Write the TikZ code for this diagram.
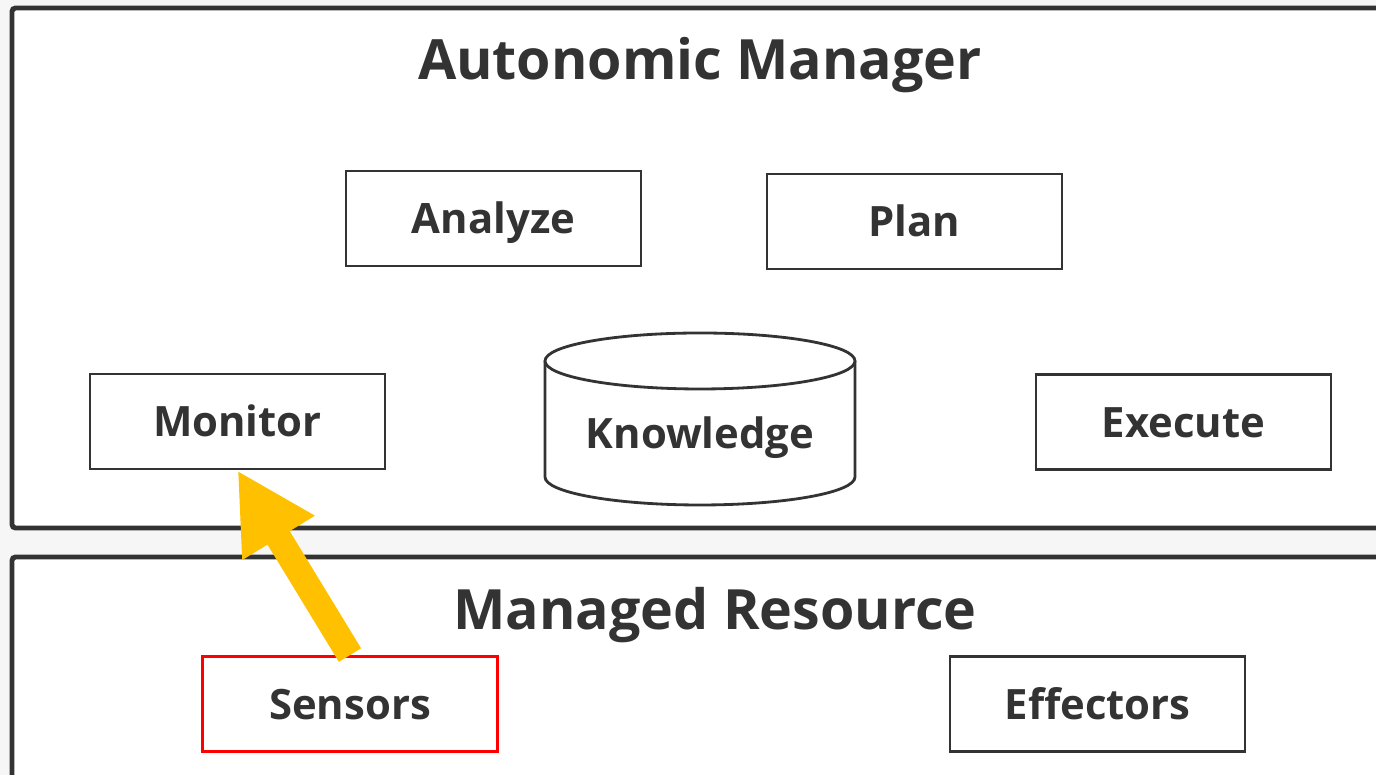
\documentclass[tikz,border=0pt]{standalone}
\usepackage{fontspec}
\setmainfont{Open Sans}
\usetikzlibrary{arrows.meta}
\definecolor{FrameGray}{RGB}{51, 51, 51}
\definecolor{PageGray}{RGB}{246, 246, 246}
\definecolor{ArrowYellow}{RGB}{255, 192, 0}
\definecolor{SensorRed}{RGB}{255, 0, 0}
\tikzset{
    frame/.style={rectangle, draw=FrameGray, fill=white, line width=1.4pt, rounded corners=1pt},
    title/.style={font=\bfseries\fontsize{15.8}{19}\selectfont, text=FrameGray},
    label/.style={font=\bfseries\fontsize{11.9}{14}\selectfont, text=FrameGray, text height=0.86em, text depth=0pt},
    stage/.style={label, rectangle, draw=FrameGray, fill=white, line width=0.8pt, minimum width=2.95cm, minimum height=0.95cm},
    storeline/.style={draw=FrameGray, fill=white, line width=0.8pt},
    flow/.style={-{Triangle[length=0.79cm, width=0.79cm]}, line width=0.26cm, color=ArrowYellow}
}
\begin{document}
\begin{tikzpicture}
            \useasboundingbox (0, 0) rectangle (13.76, -7.75);
            \clip (0, 0) rectangle (13.76, -7.75);
            \fill[PageGray] (0, 0) rectangle (13.76, -7.75);

            \node[frame, minimum width=13.88cm, minimum height=5.2cm] (am) at (7.06, -2.68) {};
            \node[frame, minimum width=13.88cm, minimum height=2.43cm] (mr) at (7.06, -6.785) {};

            \node[title] (amtitle) at (7.0, -0.65) {Autonomic Manager};
            \node[title] (mrtitle) at (7.15, -6.15) {Managed Resource};

            \node[stage] (analyze) at (4.935, -2.185) {Analyze};
            \node[stage] (plan) at (9.145, -2.215) {Plan};
            \node[stage] (monitor) at (2.375, -4.215) {Monitor};
            \node[stage] (execute) at (11.835, -4.22) {Execute};

            % knowledge store drawn as a cylinder
            \draw[storeline] (5.45, -3.61) -- (5.45, -4.77) arc[start angle=180, end angle=360, x radius=1.55, y radius=0.28] -- (8.55, -3.61);
            \draw[storeline] (7.0, -3.61) ellipse [x radius=1.55, y radius=0.28];
            \node[label] (knowledge) at (7.0, -4.33) {Knowledge};

            \node[stage, draw=SensorRed] (sensors) at (3.5, -7.04) {Sensors};
            \node[stage] (effectors) at (10.975, -7.04) {Effectors};

            \draw[flow] (sensors.north) -- (monitor.south);
\end{tikzpicture}
\end{document}
